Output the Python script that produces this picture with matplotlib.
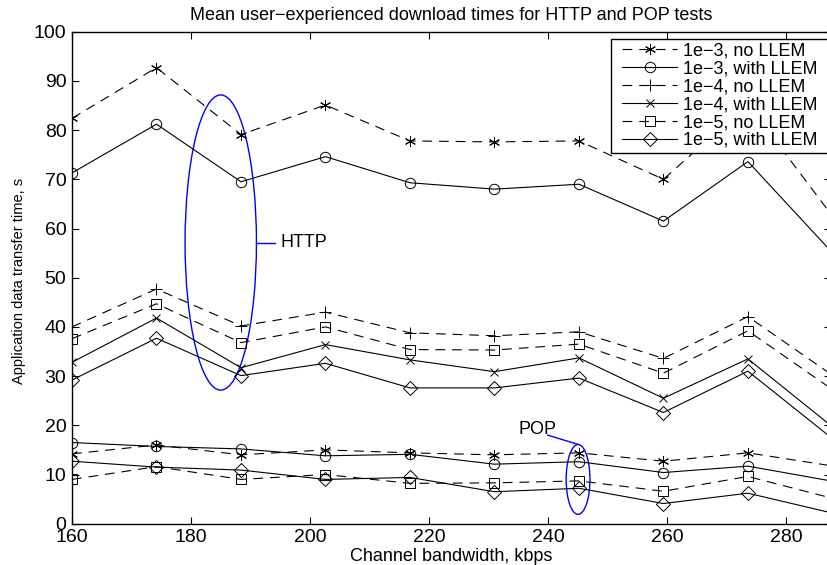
"""
Mean user-experienced download times, HTTP and POP tests.
Writes out.png (Agg backend).
"""
import matplotlib
matplotlib.use("Agg")
import matplotlib.pyplot as plt
from matplotlib.patches import Ellipse, Rectangle

plt.rcParams["font.family"] = ["Liberation Sans", "DejaVu Sans"]
plt.rcParams["font.size"] = 13
plt.rcParams["lines.scale_dashes"] = False

# channel bandwidth, kbps
bandwidth = [160, 174.2, 188.4, 202.6, 216.8, 231, 245.2, 259.4, 273.6, 288]

# HTTP transfer times, s
http_1e3_no = [82.4, 92.7, 79.1, 85.1, 77.8, 77.6, 77.8, 70.0, 85.3, 62.2]
http_1e3_llem = [71.3, 81.2, 69.5, 74.6, 69.3, 68.0, 69.0, 61.5, 73.6, 54.8]
http_1e4_no = [40.0, 47.7, 40.2, 43.0, 38.8, 38.2, 39.0, 33.6, 42.1, 30.0]
http_1e4_llem = [32.8, 41.8, 31.7, 36.4, 33.3, 30.9, 33.7, 25.5, 33.5, 19.5]
http_1e5_no = [37.6, 44.7, 36.8, 40.0, 35.4, 35.3, 36.5, 30.6, 39.2, 27.1]
http_1e5_llem = [29.2, 37.7, 30.1, 32.6, 27.6, 27.6, 29.6, 22.6, 31.0, 17.1]

# POP transfer times, s
pop_1e3_no = [14.2, 16.0, 14.0, 15.0, 14.4, 14.0, 14.4, 12.7, 14.4, 11.7]
pop_1e3_llem = [16.5, 15.7, 15.2, 13.8, 14.1, 12.1, 12.6, 10.4, 11.7, 8.6]
pop_1e5_no = [9.0, 11.6, 9.0, 10.0, 8.2, 8.3, 8.7, 6.6, 9.6, 5.1]
pop_1e5_llem = [12.7, 11.5, 10.9, 9.0, 9.4, 6.5, 7.2, 4.1, 6.2, 2.1]

labels = ["1e\u22123, no LLEM", "1e\u22123, with LLEM",
          "1e\u22124, no LLEM", "1e\u22124, with LLEM",
          "1e\u22125, no LLEM", "1e\u22125, with LLEM"]

ASTERISK = (6, 2, 0)
DASH = (0, (7, 5))

fig = plt.figure(figsize=(8.28, 5.65), dpi=100)
ax = fig.add_axes([72 / 828, 41.3 / 565, 759 / 828, 492 / 565])

def curve(y, marker, ls, ms, label=None):
    return ax.plot(bandwidth, y, color="black", lw=0.8, linestyle=ls,
                   marker=marker, ms=ms, mfc="none", mec="black", mew=0.7,
                   label=label)[0]

handles = [
    curve(http_1e3_no, ASTERISK, DASH, 8, labels[0]),
    curve(http_1e3_llem, "o", "-", 7.5, labels[1]),
    curve(http_1e4_no, "+", DASH, 9, labels[2]),
    curve(http_1e4_llem, "x", "-", 6, labels[3]),
    curve(http_1e5_no, "s", DASH, 6.5, labels[4]),
    curve(http_1e5_llem, "D", "-", 7, labels[5]),
]

curve(pop_1e3_no, ASTERISK, DASH, 8)
curve(pop_1e3_llem, "o", "-", 7.5)
curve(pop_1e5_no, "s", DASH, 6.5)
curve(pop_1e5_llem, "D", "-", 7)

# group callouts
ax.add_patch(Ellipse((185.0, 57.15), 12.0, 60.0, fill=False,
                     edgecolor="blue", lw=1.0))
ax.plot([191.0, 194.1], [57.1, 57.1], color="blue", lw=1.0)
ax.text(195.1, 57.1, "HTTP", ha="left", va="center")

ax.add_patch(Ellipse((245.05, 9.0), 4.0, 14.2, fill=False,
                     edgecolor="blue", lw=1.0))
ax.plot([239.95, 245.1], [18.0, 16.1], color="blue", lw=1.0)
ax.text(235.1, 19.2, "POP", ha="left", va="center")

ax.set_xlim(160, 160 + 759 / 5.95)
ax.set_ylim(0, 100)
ax.set_xticks(range(160, 281, 20))
ax.set_yticks(range(0, 101, 10))
ax.tick_params(direction="in", length=5, width=0.8, top=True, right=True,
               pad=4, labelsize=14)
for sp in ax.spines.values():
    sp.set_linewidth(1.0)

ax.set_title("Mean user\u2212experienced download times for HTTP and POP tests",
             pad=8.5, fontsize=13)
ax.set_xlabel("Channel bandwidth, kbps", labelpad=1)
ax.set_ylabel("Application data transfer time, s", fontsize=10.5)
ax.yaxis.set_label_coords(-0.061, 0.493)

# legend box drawn separately so the padding can differ per side
fig.add_artist(Rectangle((611 / 828, 1 - 153.3 / 565), 216.7 / 828,
                         114.6 / 565, transform=fig.transFigure,
                         facecolor="white", edgecolor="black", lw=1.0,
                         zorder=1))
fig.legend(handles, labels, loc="upper left",
           bbox_to_anchor=(622 / 828, 1 - 42.4 / 565),
           bbox_transform=fig.transFigure, borderaxespad=0, borderpad=0,
           frameon=False, handlelength=3.05, handletextpad=0.33,
           labelspacing=0.05)

fig.savefig("out.png", dpi=100)
plt.close(fig)
